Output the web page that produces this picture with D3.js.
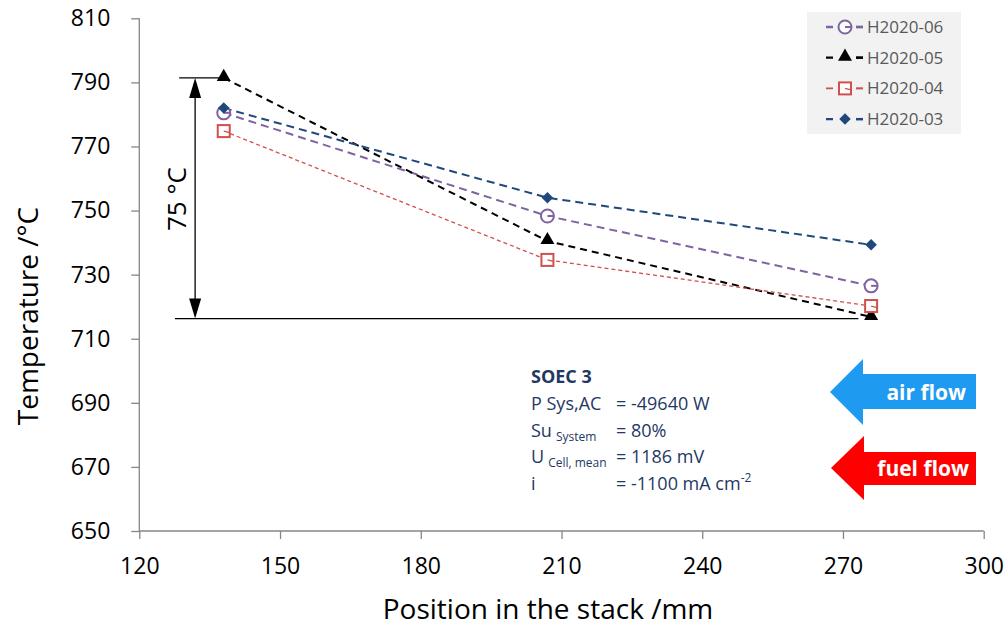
<!DOCTYPE html>
<html>
<head>
<meta charset="utf-8">
<script src="https://cdn.jsdelivr.net/npm/d3@7"></script>
<style>
  body { margin: 0; background: #fff; }
  text { font-family: "Open Sans", sans-serif; }
</style>
</head>
<body>
<div id="chart"></div>
<script>
// data
var positions = [138, 207, 276];
var seriesNames = ["H2020-06", "H2020-05", "H2020-04", "H2020-03"];
var h06 = [780.5, 748.3, 726.5];
var h05 = [791.4, 740.5, 716.8];
var h04 = [774.8, 734.6, 720.2];
var h03 = [782.0, 754.0, 739.3];
var xTicks = [120, 150, 180, 210, 240, 270, 300];
var yTicks = [650, 670, 690, 710, 730, 750, 770, 790, 810];
var infoLines = ["P Sys,AC", "Su", "U", "i"];

var width = 1008, height = 629;
var svg = d3.select("#chart").append("svg")
    .attr("width", width).attr("height", height);

var x = d3.scaleLinear().domain([120, 300]).range([139.3, 983.7]);
var y = d3.scaleLinear().domain([650, 810]).range([531, 18.3]);

var axisColor = "#868686";

// axes
var gx = svg.append("g")
    .attr("transform", "translate(0," + y(650) + ")")
    .call(d3.axisBottom(x).tickValues(xTicks).tickSize(8).tickPadding(19));
var gy = svg.append("g")
    .attr("transform", "translate(" + x(120) + ",0)")
    .call(d3.axisLeft(y).tickValues(yTicks).tickSize(8).tickPadding(21));
[gx, gy].forEach(function(g) {
    g.select(".domain").attr("stroke", axisColor).attr("stroke-width", 1.3);
    g.selectAll(".tick line").attr("stroke", axisColor).attr("stroke-width", 1.3);
    g.selectAll(".tick text").attr("font-size", 23).attr("fill", "#000")
        .style("font-family", "'Open Sans', sans-serif");
});
gx.select(".domain").attr("d", "M" + x(120) + ",0H" + x(300));
gy.select(".domain").attr("d", "M0," + y(810) + "V" + y(650));

svg.append("text")
    .attr("x", 548).attr("y", 619)
    .attr("text-anchor", "middle").attr("font-size", 28)
    .text("Position in the stack /mm");
svg.append("text")
    .attr("transform", "translate(38,316) rotate(-90)")
    .attr("text-anchor", "middle").attr("font-size", 28)
    .text("Temperature /°C");

// series
var series = [
    { name: seriesNames[0], values: h06, color: "#8064a2", dash: "8,5", w: 2, marker: "circle" },
    { name: seriesNames[1], values: h05, color: "#000000", dash: "7,5", w: 2, marker: "triangle" },
    { name: seriesNames[2], values: h04, color: "#d0504d", dash: "4,3", w: 1.3, marker: "square" },
    { name: seriesNames[3], values: h03, color: "#1f497d", dash: "8,5", w: 2, marker: "diamond" }
];

var line = d3.line()
    .x(function(d, i) { return x(positions[i]); })
    .y(function(d) { return y(d); });

function drawMarker(g, s, cx, cy) {
    if (s.marker === "circle") {
        g.append("circle").attr("cx", cx).attr("cy", cy).attr("r", 6.5)
            .attr("fill", "#fff").attr("stroke", s.color).attr("stroke-width", 2);
        g.append("line").attr("x1", cx).attr("x2", cx + 6.5).attr("y1", cy).attr("y2", cy)
            .attr("stroke", s.color).attr("stroke-width", 2);
    } else if (s.marker === "triangle") {
        g.append("path")
            .attr("d", d3.symbol().type(d3.symbolTriangle).size(85)())
            .attr("transform", "translate(" + cx + "," + (cy - 1) + ")")
            .attr("fill", s.color);
    } else if (s.marker === "square") {
        g.append("rect").attr("x", cx - 6).attr("y", cy - 6).attr("width", 12).attr("height", 12)
            .attr("fill", "#fff").attr("stroke", s.color).attr("stroke-width", 2);
        g.append("line").attr("x1", cx).attr("x2", cx + 6).attr("y1", cy).attr("y2", cy + 1.5)
            .attr("stroke", s.color).attr("stroke-width", 1.3);
    } else {
        g.append("path")
            .attr("d", d3.symbol().type(d3.symbolDiamond2).size(85)())
            .attr("transform", "translate(" + cx + "," + cy + ")")
            .attr("fill", s.color);
    }
}

// lines first, then markers in legend order (H2020-03 on top)
series.forEach(function(s) {
    svg.append("path").datum(s.values)
        .attr("fill", "none").attr("stroke", s.color)
        .attr("stroke-width", s.w).attr("stroke-dasharray", s.dash)
        .attr("d", line);
});
series.forEach(function(s) {
    var g = svg.append("g");
    s.values.forEach(function(v, i) {
        drawMarker(g, s, x(positions[i]), y(v));
    });
});

// 75 °C annotation
var ann = svg.append("g").attr("stroke", "#000").attr("stroke-width", 1.3);
ann.append("line")
    .attr("x1", x(128.5)).attr("x2", x(137)).attr("y1", y(h05[0])).attr("y2", y(h05[0]));
ann.append("line")
    .attr("x1", x(127.6)).attr("x2", x(273.3)).attr("y1", y(716.3)).attr("y2", y(716.3));
var ax = x(131.9), aTop = y(h05[0]), aBot = y(716.3);
ann.append("line").attr("x1", ax).attr("x2", ax).attr("y1", aTop + 18).attr("y2", aBot - 18);
svg.append("path")
    .attr("d", "M" + ax + "," + aTop + "L" + (ax - 6) + "," + (aTop + 20) + "L" + (ax + 6) + "," + (aTop + 20) + "Z")
    .attr("fill", "#000");
svg.append("path")
    .attr("d", "M" + ax + "," + aBot + "L" + (ax - 6) + "," + (aBot - 20) + "L" + (ax + 6) + "," + (aBot - 20) + "Z")
    .attr("fill", "#000");
svg.append("text")
    .attr("transform", "translate(" + (ax - 9) + "," + 199 + ") rotate(-90)")
    .attr("text-anchor", "middle").attr("font-size", 26)
    .text("75 °C");

// legend
var lg = svg.append("g");
lg.append("rect").attr("x", 807).attr("y", 12).attr("width", 154).attr("height", 122)
    .attr("fill", "#f2f2f2");
series.forEach(function(s, i) {
    var ly = 27 + i * 30.7;
    var g = lg.append("g");
    g.append("line").attr("x1", 826).attr("x2", 863).attr("y1", ly).attr("y2", ly)
        .attr("stroke", s.color).attr("stroke-width", s.w + 0.3)
        .attr("stroke-dasharray", "7,23");
    g.append("line").attr("x1", 856).attr("x2", 863).attr("y1", ly).attr("y2", ly)
        .attr("stroke", s.color).attr("stroke-width", s.w + 0.3);
    drawMarker(g, s, 845, ly);
    g.append("text").attr("x", 867).attr("y", ly + 6)
        .attr("font-size", 17).attr("fill", "#595959").text(s.name);
});

// info text block
var info = svg.append("g").attr("fill", "#1f3864");
info.append("text").attr("x", 531).attr("y", 383)
    .attr("font-size", 18).attr("font-weight", "bold").text("SOEC 3");
var valueTexts = ["= -49640 W", "= 80%", "= 1186 mV", "= -1100 mA cm"];
var subs = ["", "System", "Cell, mean", ""];
infoLines.forEach(function(t, i) {
    var by = 410 + i * 26.5;
    var tx = info.append("text").attr("x", 531).attr("y", by).attr("font-size", 18);
    tx.append("tspan").text(t);
    if (subs[i]) {
        tx.append("tspan").attr("dx", 4).attr("dy", 4).attr("font-size", 12).text(subs[i]);
    }
    var vt = info.append("text").attr("x", 616).attr("y", by).attr("font-size", 18);
    vt.append("tspan").text(valueTexts[i]);
    if (i === 3) {
        vt.append("tspan").attr("dy", -8).attr("font-size", 12).text("-2");
    }
});

// flow arrows
function flowArrow(tipX, tipY, headX, headHalf, bodyTop, bodyBot, rightX, color, label, labelX) {
    svg.append("path")
        .attr("d", "M" + tipX + "," + tipY +
            "L" + headX + "," + (tipY - headHalf) +
            "L" + headX + "," + bodyTop +
            "L" + rightX + "," + bodyTop +
            "L" + rightX + "," + bodyBot +
            "L" + headX + "," + bodyBot +
            "L" + headX + "," + (tipY + headHalf) + "Z")
        .attr("fill", color);
    svg.append("text").attr("x", labelX).attr("y", tipY + 8)
        .attr("text-anchor", "end")
        .attr("font-size", 21).attr("font-weight", "bold").attr("fill", "#fff")
        .text(label);
}
flowArrow(830, 392, 863, 33, 374, 409, 976, "#1e9af0", "air flow", 966);
flowArrow(831, 468, 864, 32, 452, 485, 976, "#ff0000", "fuel flow", 969);
</script>
</body>
</html>
